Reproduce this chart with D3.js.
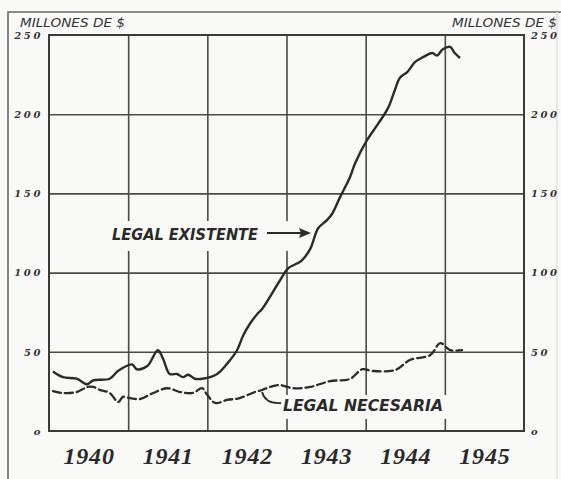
<!DOCTYPE html>
<html>
<head>
<meta charset="utf-8">
<script src="https://cdn.jsdelivr.net/npm/d3@7"></script>
<style>
  body { margin: 0; background: #f9f9f7; }
  svg { display: block; }
</style>
</head>
<body>
<div id="chart"></div>
<script>
// months counted from january 1940
var existenteMonths = [0.6, 2.1, 4.2, 5.8, 6.7, 9.2, 10.5, 12.6, 13.3, 14.9, 16.5, 17.3, 18.3, 19.4, 20.3, 21.1, 22.1, 23.3, 25.5, 27.1, 28.5, 29.4, 30.5, 31.7, 32.3, 35.0, 36.2, 38.3, 39.6, 40.8, 42.1, 42.9, 44.1, 45.6, 46.4, 48.2, 49.9, 51.4, 52.4, 53.2, 54.3, 55.5, 56.7, 58.1, 58.8, 59.7, 60.8, 61.5, 62.3];
var existenteValues = [37.5, 34, 33, 29.5, 32, 33, 38, 42, 39, 41, 51, 45.5, 36, 36, 34, 35.5, 33, 33, 36, 43, 51, 60, 68, 74.5, 77, 95, 102.5, 107.6, 115, 128, 133, 137, 147.5, 160, 169, 183.6, 194, 204, 215, 223, 226.6, 233, 236, 238.6, 237, 241, 242.5, 238.6, 235.5];

var necesariaMonths = [0.6, 2.1, 4.2, 5.8, 6.7, 7.7, 9.2, 10.5, 11.2, 12.3, 13.8, 15.8, 17.9, 19.9, 21.8, 23.2, 24.0, 25.2, 27.0, 28.9, 31.2, 32.3, 33.5, 35.0, 37.0, 39.6, 42.6, 45.6, 47.5, 49.0, 52.5, 54.7, 57.8, 59.3, 60.8, 62.6];
var necesariaValues = [25.2, 24, 24.6, 27.8, 27.8, 26, 24, 18.3, 21.5, 20.8, 20.2, 24, 27, 24.6, 24, 27, 22.7, 17.7, 19.6, 20.8, 24.6, 25.9, 27.8, 29, 27, 27.8, 31.5, 32.8, 39, 37.9, 38.5, 44.8, 48, 55.5, 51, 51];

var yTicks = [0, 50, 100, 150, 200, 250];
var yTickLabels = ["o", "50", "100", "150", "200", "250"];
var yearLabels = ["1940", "1941", "1942", "1943", "1944", "1945"];
var unitLabel = "MILLONES DE $";

var svgWidth = 561;
var svgHeight = 479;
var margin = { top: 35, left: 49, right: 37, bottom: 48 };
var width = svgWidth - margin.left - margin.right;
var height = svgHeight - margin.top - margin.bottom;
var ink = "#2b2b2b";
var paper = "#f9f9f7";

var svg = d3.select("#chart").append("svg")
  .attr("width", svgWidth)
  .attr("height", svgHeight);

svg.append("rect").attr("width", svgWidth).attr("height", svgHeight).attr("fill", paper);

// outer frame of the page
svg.append("path")
  .attr("d", "M8,479 L8,12 L561,12")
  .attr("fill", "none").attr("stroke", "#666").attr("stroke-width", 1.6);
svg.append("line")
  .attr("x1", 557).attr("x2", 557).attr("y1", 12).attr("y2", 479)
  .attr("stroke", "#e2e2e2").attr("stroke-width", 1.5);

var chartGroup = svg.append("g")
  .attr("transform", `translate(${margin.left}, ${margin.top})`);

var x = d3.scaleLinear().domain([0, 72]).range([0, width]);
var y = d3.scaleLinear().domain([0, 250]).range([height, 0]);

// grid
var xGrid = d3.axisBottom(x).tickValues([12, 24, 36, 48, 60]).tickSize(-height).tickFormat("");
var gx = chartGroup.append("g").attr("transform", `translate(0, ${height})`).call(xGrid);
var yGrid = d3.axisLeft(y).tickValues([50, 100, 150, 200]).tickSize(-width).tickFormat("");
var gy = chartGroup.append("g").call(yGrid);
[gx, gy].forEach(function(g) {
  g.select(".domain").remove();
  g.selectAll("line").attr("stroke", "#4a4a4a").attr("stroke-width", 1.6);
});

chartGroup.append("rect")
  .attr("width", width).attr("height", height)
  .attr("fill", "none").attr("stroke", "#3a3a3a").attr("stroke-width", 2);

// y labels on both sides
var tickFont = "bold italic 10px 'DejaVu Serif', serif";
var leftAxis = chartGroup.append("g")
  .call(d3.axisLeft(y).tickValues(yTicks).tickSize(0).tickPadding(6).tickFormat((d, i) => yTickLabels[i]));
var rightAxis = chartGroup.append("g")
  .attr("transform", `translate(${width}, 0)`)
  .call(d3.axisRight(y).tickValues(yTicks).tickSize(0).tickPadding(7).tickFormat((d, i) => yTickLabels[i]));
[leftAxis, rightAxis].forEach(function(g) {
  g.select(".domain").remove();
  g.selectAll("text")
    .style("font", tickFont)
    .style("letter-spacing", "2.6px")
    .attr("fill", "#333");
});

// years along the bottom
var yearAxis = chartGroup.append("g")
  .attr("transform", `translate(0, ${height})`)
  .call(d3.axisBottom(x).tickValues([6, 18, 30, 42, 54, 66]).tickSize(0).tickPadding(16).tickFormat((d, i) => yearLabels[i]));
yearAxis.select(".domain").remove();
yearAxis.selectAll("text")
  .style("font", "bold italic 24px 'Liberation Serif', serif")
  .style("letter-spacing", "0.8px")
  .attr("fill", "#2a2a2a");

// unit headers
var headFont = "italic 12px 'DejaVu Sans Condensed', 'DejaVu Sans', sans-serif";
svg.append("text").attr("x", 20).attr("y", 27).text(unitLabel)
  .attr("textLength", 105).attr("lengthAdjust", "spacingAndGlyphs")
  .style("font", headFont).attr("fill", "#333");
svg.append("text").attr("x", 452).attr("y", 27).text(unitLabel)
  .attr("textLength", 105).attr("lengthAdjust", "spacingAndGlyphs")
  .style("font", headFont).attr("fill", "#333");

// white patches behind the series labels
chartGroup.append("rect").attr("x", 60).attr("y", 186).attr("width", 213).attr("height", 30).attr("fill", paper);
chartGroup.append("rect").attr("x", 230).attr("y", 360).attr("width", 168).attr("height", 24).attr("fill", paper);

var line = d3.line().x(d => x(d[0])).y(d => y(d[1])).curve(d3.curveCatmullRom.alpha(0.5));

chartGroup.append("path")
  .datum(necesariaMonths.map((m, i) => [m, necesariaValues[i]]))
  .attr("d", line)
  .attr("fill", "none").attr("stroke", ink).attr("stroke-width", 2.3)
  .attr("stroke-dasharray", "8,4").attr("stroke-linecap", "round");

chartGroup.append("path")
  .datum(existenteMonths.map((m, i) => [m, existenteValues[i]]))
  .attr("d", line)
  .attr("fill", "none").attr("stroke", ink).attr("stroke-width", 2.4)
  .attr("stroke-linejoin", "round");

// series labels
var labelFont = "bold italic 16px 'DejaVu Sans Condensed', 'DejaVu Sans', sans-serif";
chartGroup.append("text").attr("x", 63).attr("y", 205).text("LEGAL EXISTENTE")
  .attr("textLength", 146).attr("lengthAdjust", "spacingAndGlyphs")
  .style("font", labelFont).attr("fill", "#2a2a2a");
chartGroup.append("text").attr("x", 234).attr("y", 376).text("LEGAL NECESARIA")
  .attr("textLength", 160).attr("lengthAdjust", "spacingAndGlyphs")
  .style("font", labelFont).attr("fill", "#2a2a2a");

// arrow to the solid line
chartGroup.append("line").attr("x1", 218).attr("y1", 198).attr("x2", 256).attr("y2", 198)
  .attr("stroke", ink).attr("stroke-width", 2);
chartGroup.append("path").attr("d", "M262,198 L250,193 L252,198 L250,203 Z").attr("fill", ink);

// leader to the dashed line
chartGroup.append("path")
  .attr("d", "M" + x(32.3) + "," + (y(25.9) + 2) + " Q" + (x(32.3) + 3) + ",369 " + 232 + ",368")
  .attr("fill", "none").attr("stroke", ink).attr("stroke-width", 1.8);
</script>
</body>
</html>
